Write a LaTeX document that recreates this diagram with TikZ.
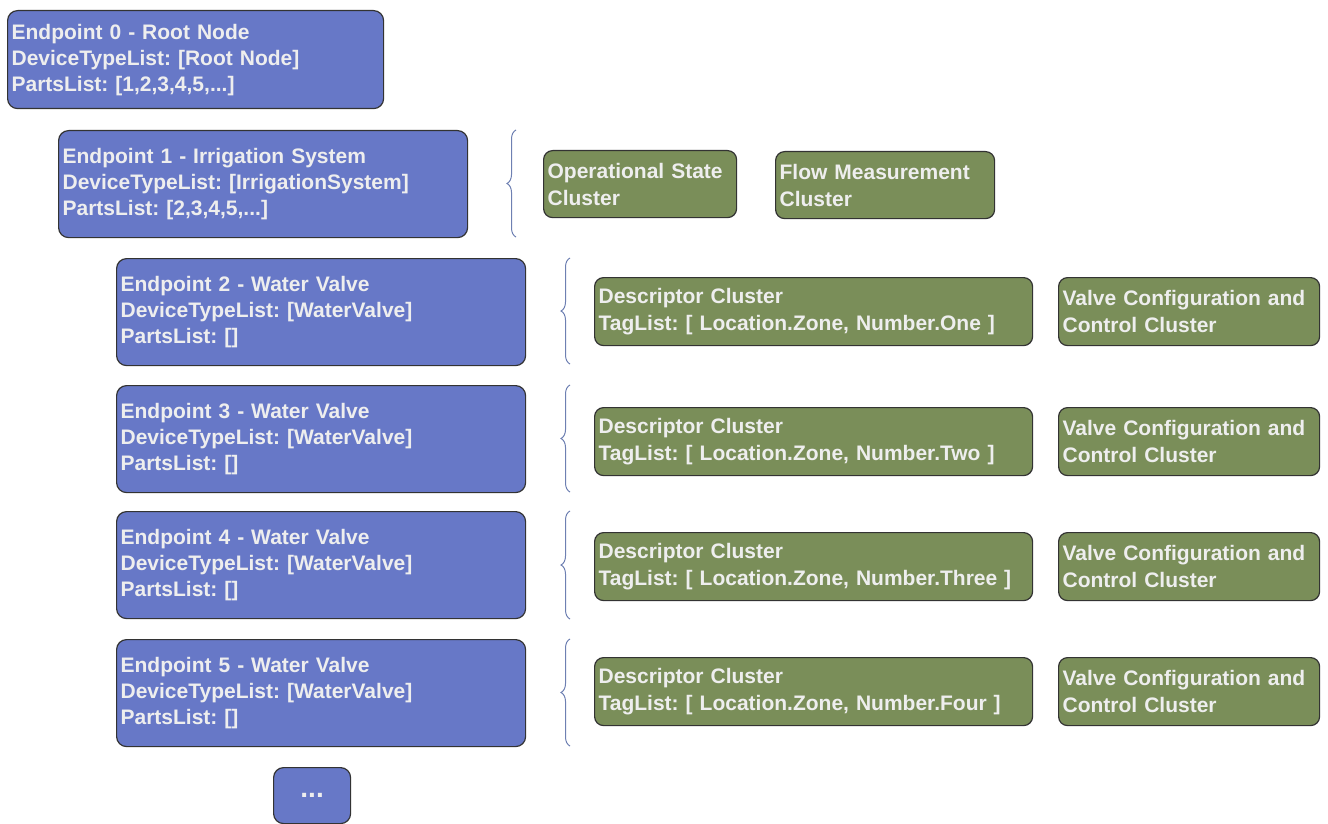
\documentclass[tikz,border=0pt]{standalone}
\usepackage{fontspec}
\setmainfont{Liberation Sans}
\usetikzlibrary{decorations.pathreplacing}
\definecolor{epblue}{RGB}{103,120,199}
\definecolor{clgreen}{RGB}{122,142,89}
\definecolor{boxtext}{RGB}{238,238,238}
\definecolor{bracecol}{RGB}{110,128,178}
\frenchspacing

\begin{document}
\begin{tikzpicture}[x=0.5pt, y=-0.5pt,
    endpoint/.style={draw=black!80, fill=epblue, text=boxtext, rounded corners=5pt, line width=0.6pt,
        anchor=north west, inner xsep=2pt, inner ysep=0pt, align=left,
        font=\fontsize{10.5}{13}\selectfont\bfseries},
    cluster/.style={draw=black!80, fill=clgreen, text=boxtext, rounded corners=4.5pt, line width=0.6pt,
        anchor=north west, inner xsep=2pt, inner ysep=0pt, align=left,
        font=\fontsize{10.5}{13.5}\selectfont\bfseries},
    partbrace/.style={draw=bracecol, line width=0.5pt, decorate, decoration={brace, amplitude=4.5pt}}]
    \useasboundingbox (0,0) rectangle (1328,824);

    \node[endpoint, text width=184pt, minimum height=49pt] (ep0) at (7,10)
        {Endpoint 0 - Root Node\\DeviceTypeList: [Root Node]\\PartsList: [1,2,3,4,5,...]};
    \node[endpoint, text width=200.5pt, minimum height=53.5pt] (ep1) at (58,130)
        {Endpoint 1 - Irrigation System\\DeviceTypeList: [IrrigationSystem]\\PartsList: [2,3,4,5,...]};
    \node[endpoint, text width=200.5pt, minimum height=53.5pt] (ep2) at (116,258)
        {Endpoint 2 - Water Valve\\DeviceTypeList: [WaterValve]\\PartsList: []};
    \node[endpoint, text width=200.5pt, minimum height=53.5pt] (ep3) at (116,385)
        {Endpoint 3 - Water Valve\\DeviceTypeList: [WaterValve]\\PartsList: []};
    \node[endpoint, text width=200.5pt, minimum height=53.5pt] (ep4) at (116,511)
        {Endpoint 4 - Water Valve\\DeviceTypeList: [WaterValve]\\PartsList: []};
    \node[endpoint, text width=200.5pt, minimum height=53.5pt] (ep5) at (116,639)
        {Endpoint 5 - Water Valve\\DeviceTypeList: [WaterValve]\\PartsList: []};
    \node[endpoint, minimum width=38.5pt, minimum height=28pt, align=center, font=\fontsize{14}{14}\selectfont\bfseries] (more) at (273,767) {...};

    \node[cluster, text width=92.5pt, minimum height=33.5pt] (opstate) at (543,150)
        {Operational State\\Cluster};
    \node[cluster, text width=105.5pt, minimum height=33.5pt] (flow) at (775,151)
        {Flow Measurement\\Cluster};

    \node[cluster, text width=215pt, minimum height=34pt] (desc2) at (594,277)
        {Descriptor Cluster\\TagList: [ Location.Zone, Number.One ]};
    \node[cluster, text width=126.5pt, minimum height=34pt] (valve2) at (1058,277)
        {Valve Configuration and\\Control Cluster};
    \node[cluster, text width=215pt, minimum height=34pt] (desc3) at (594,407)
        {Descriptor Cluster\\TagList: [ Location.Zone, Number.Two ]};
    \node[cluster, text width=126.5pt, minimum height=34pt] (valve3) at (1058,407)
        {Valve Configuration and\\Control Cluster};
    \node[cluster, text width=215pt, minimum height=34pt] (desc4) at (594,532)
        {Descriptor Cluster\\TagList: [ Location.Zone, Number.Three ]};
    \node[cluster, text width=126.5pt, minimum height=34pt] (valve4) at (1058,532)
        {Valve Configuration and\\Control Cluster};
    \node[cluster, text width=215pt, minimum height=34pt] (desc5) at (594,657)
        {Descriptor Cluster\\TagList: [ Location.Zone, Number.Four ]};
    \node[cluster, text width=126.5pt, minimum height=34pt] (valve5) at (1058,657)
        {Valve Configuration and\\Control Cluster};

    \draw[partbrace] (516,237) -- (516,130);
    \draw[partbrace] (570,364) -- (570,258);
    \draw[partbrace] (570,492) -- (570,385);
    \draw[partbrace] (570,619) -- (570,511);
    \draw[partbrace] (570,746) -- (570,639);
\end{tikzpicture}
\end{document}
